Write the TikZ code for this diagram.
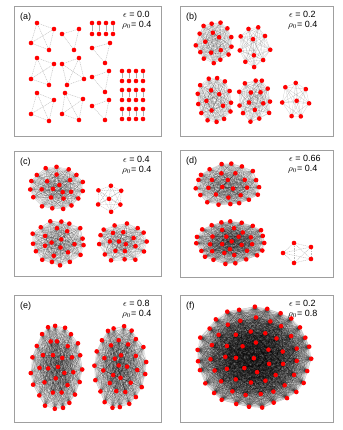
\documentclass[tikz,border=0pt]{standalone}
\usepackage{fontspec}
\setmainfont{Liberation Sans}
\usetikzlibrary{backgrounds}
\newcounter{nv}
\tikzset{
  vertice/.style={circle, fill=red, inner sep=0pt, minimum size=4.6pt},
  aresta/.style={gray!55, line width=0.4pt, dash pattern=on 1pt off 0.8pt},
  par/.style={gray!65, line width=0.7pt},
  malha/.style={black, line width=0.3pt, draw opacity=0.19},
  painel/.style={draw=gray!75, line width=0.8pt},
  rotulo/.style={font=\fontsize{9}{10}\selectfont, inner sep=0pt},
}
% liga todos os pares de um grupo
\newcommand\completo[3]{%
  \begin{pgfonlayer}{background}%
  \foreach \i in {2,...,#2}{%
    \pgfmathtruncatemacro\im{\i-1}%
    \foreach \j in {1,...,\im}{\draw[#3] (#1-\i.center) -- (#1-\j.center);}%
  }%
  \end{pgfonlayer}%
}
% grupo em aneis: nome, centro x, centro y, rx, ry, aneis (n/raio/fase)
\newcommand\grupo[7][malha]{%
  \setcounter{nv}{0}%
  \foreach \na/\ra/\fa in {#7}{%
    \foreach \k in {1,...,\na}{%
      \stepcounter{nv}\edef\idx{\arabic{nv}}%
      \pgfmathsetmacro\dx{1.6*rand}\pgfmathsetmacro\dy{1.6*rand}%
      \node[vertice] (#2-\idx) at ({#3+#5*\ra*cos(\fa+360*\k/\na)+\dx},{#4+#6*\ra*sin(\fa+360*\k/\na)+\dy}) {};
    }%
  }%
  \edef\ntot{\arabic{nv}}%
  \completo{#2}{\ntot}{#1}%
}
\begin{document}
\begin{tikzpicture}[x=1pt, y=-1pt]
  \pgfmathsetseed{17}
  \useasboundingbox (0,0) rectangle (342,430);
  \begin{pgfonlayer}{background}
    \fill[white] (0,0) rectangle (342,430);
  \end{pgfonlayer}

  % paineis
  \draw[painel] (14,6) rectangle (161,136);
  \draw[painel] (180,6) rectangle (333,136);
  \draw[painel] (14,151) rectangle (161,276);
  \draw[painel] (180,150) rectangle (333,277);
  \draw[painel] (14,295) rectangle (161,422);
  \draw[painel] (180,295) rectangle (333,422);

  \foreach \pn/\x/\y/\ev/\rv in {a/14/6/0.0/0.4, b/180/6/0.2/0.4, c/14/151/0.4/0.4,
      d/180/150/0.66/0.4, e/14/295/0.8/0.4, f/180/295/0.2/0.8}{
    \node[rotulo, anchor=west] (r\pn) at (\x+6,\y+11) {(\pn)};
    \node[rotulo, anchor=west] (e\pn) at (\x+109,\y+8.5) {$\epsilon$ = \ev};
    \node[rotulo, anchor=west] (p\pn) at (\x+108,\y+19.5) {$\rho_0$= \rv};
  }

  % (a) e o grupo pequeno de (d)
  \foreach \nome/\x/\y in {
      a1-1/37/23, a1-2/54/29, a1-3/31/43, a1-4/49/50,
      a2-1/62/34, a2-2/79/29, a2-3/74/50,
      a3-1/110/43, a3-2/92/48, a3-3/105/63,
      a4-1/37/58, a4-2/54/64, a4-3/31/79, a4-4/49/85,
      a5-1/62/64, a5-2/79/58, a5-3/67/85, a5-4/84/79,
      a6-1/109/71, a6-2/92/77, a6-3/105/92,
      a7-1/37/93, a7-2/54/100, a7-3/31/114, a7-4/49/121,
      a8-1/65/93, a8-2/83/99, a8-3/62/114, a8-4/79/120,
      a9-1/109/100, a9-2/92/106, a9-3/105/120,
      d3-1/283/253, d3-2/294/243, d3-3/311/247, d3-4/294/263, d3-5/311/259}
    \node[vertice] (\nome) at (\x,\y) {};
  \foreach \gr/\tam in {a1/4, a2/3, a3/3, a4/4, a5/4, a6/3, a7/4, a8/4, a9/3, d3/5}
    \completo{\gr}{\tam}{aresta};

  \foreach \c [count=\ci] in {92,99,106,113}{
    \node[vertice] (g-\ci-1) at (\c,23) {};
    \node[vertice] (g-\ci-2) at (\c,34) {};
    \draw[par] (g-\ci-1) -- (g-\ci-2);
  }
  \foreach \c [count=\ci] in {122,129,136,143}{
    \foreach \y [count=\l] in {71,81,90,100,109,119}
      \node[vertice] (h-\ci-\l) at (\c,\y) {};
    \foreach \l in {1,3,5}{
      \pgfmathtruncatemacro\lb{\l+1}
      \draw[par] (h-\ci-\l) -- (h-\ci-\lb);
    }
  }

  % (b)
  \grupo{b1}{214}{43}{17}{20}{13/1/11, 5/0.45/43}
  \grupo{b2}{254}{47}{15}{20}{9/1/7, 2/0.35/77}
  \grupo{b3}{214}{100}{17.5}{22}{13/1/3, 5/0.5/31}
  \grupo{b4}{255}{100}{16}{21}{11/1/5, 5/0.48/23}
  \grupo{b5}{296}{100}{13}{18}{7/1/13, 1/0/0}

  % (c)
  \grupo{c1}{57}{188}{26}{21}{15/1/7, 7/0.58/17, 3/0.22/41}
  \grupo[aresta]{c2}{110}{198}{13}{13.5}{6/1/30, 1/0/0}
  \grupo{c3}{58}{242}{26}{22}{15/1/11, 7/0.58/3, 3/0.22/61}
  \grupo{c4}{122}{242}{24}{19}{13/1/3, 7/0.56/21, 2/0.2/33}

  % (d)
  \grupo{d1}{228}{185}{31}{20.5}{17/1/3, 9/0.6/11, 3/0.22/31}
  \grupo{d2}{231}{242}{34}{21}{19/1/5, 11/0.64/13, 5/0.3/23, 1/0/0}

  % (e)
  \grupo{e1}{57}{367}{25}{42.5}{19/1/3, 11/0.64/13, 5/0.3/31, 1/0/0}
  \grupo{e2}{120}{367}{25}{41}{19/1/11, 11/0.64/7, 5/0.3/3, 1/0/0}

  % (f)
  \grupo{f}{254}{357}{57}{50}{27/1/3, 19/0.77/7, 13/0.53/13, 7/0.29/23, 1/0/0}
\end{tikzpicture}
\end{document}
